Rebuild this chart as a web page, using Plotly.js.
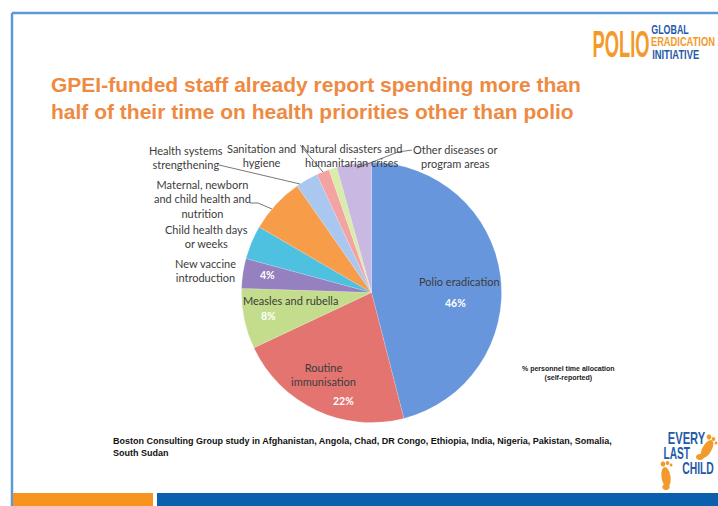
<!DOCTYPE html>
<html><head><meta charset="utf-8">
<script src="https://cdn.plot.ly/plotly-3.0.1.min.js"></script>
<style>html,body{margin:0;padding:0;background:#fff}#c{width:718px;height:506px}</style>
</head><body><div id="c"></div>
<script>
const categories = ["Polio eradication","Routine immunisation","Measles and rubella","New vaccine introduction","Child health days or weeks","Maternal, newborn and child health and nutrition","Health systems strengthening","Sanitation and hygiene","Natural disasters and humanitarian crises","Other diseases or program areas"];
const shares = [46, 22, 7.5, 3.7, 4.2, 6.9, 2.8, 1.6, 1, 4.3];
const sliceColors = ["#6796dc","#e3746f","#c3dd8c","#9580c0","#4dc1df","#f79d4a","#a9c7ef","#f3a3a1","#d9ecaa","#c9b9e2"];
const shownPercents = {"Polio eradication":"46%","Routine immunisation":"22%","Measles and rubella":"8%","New vaccine introduction":"4%"};

const W=718,H=506;
const px=x=>x/W, py=y=>1-y/H;
const cx=371.5, cy=292.5, R=130;

const gray="#3c3c3c", lf="Lato, 'Open Sans', sans-serif";
function lab(text,x,y,opts={}){
  return Object.assign({text:text,x:px(x),y:py(y),xref:'paper',yref:'paper',showarrow:false,
    xanchor:'center',yanchor:'middle',font:{family:lf,size:11,color:gray},align:'center'},opts);
}
const white={family:lf,size:10.5,color:"#ffffff",weight:'bold'};
const LS="'Liberation Sans', Arial, sans-serif";
const annotations=[
  lab("GPEI-funded staff already report spending more than<br>half of their time on health priorities other than polio",49,98,
      {xanchor:'left',align:'left',font:{family:LS,size:21,color:"#ee8a42",weight:'bold'}}),
  lab("Health systems<br>strengthening",186,157),
  lab("Sanitation and<br>hygiene",261,155),
  lab("Natural disasters and<br>humanitarian crises",351,155),
  lab("Other diseases or<br>program areas",456,156),
  lab("Maternal, newborn<br>and child health and<br>nutrition",202,199),
  lab("Child health days<br>or weeks",207,237),
  lab("New vaccine<br>introduction",205,270),
  lab(shownPercents["New vaccine introduction"],267,275,{font:white}),
  lab("Measles and rubella",290,300),
  lab(shownPercents["Measles and rubella"],268,316,{font:white}),
  lab("Routine<br>immunisation",323,374),
  lab(shownPercents["Routine immunisation"],343,401,{font:white}),
  lab("Polio eradication",459,281),
  lab(shownPercents["Polio eradication"],456,303,{font:white}),
  lab("% personnel time allocation<br>(self-reported)",568,373,{font:{family:LS,size:7,color:"#222",weight:'bold'}}),
  lab("Boston Consulting Group study in Afghanistan, Angola, Chad, DR Congo, Ethiopia, India, Nigeria, Pakistan, Somalia,<br>South Sudan",111,447,
      {xanchor:'left',align:'left',font:{family:LS,size:9,color:"#111",weight:'bold'}}),
  // POLIO logo
  lab("POLIO",621,45,{font:{family:LS,size:18,color:"#f39a2a",weight:'bold'}}),
  lab("GLOBAL",670,30.5,{font:{family:LS,size:9,color:"#1f5ba8",weight:'bold'}}),
  lab("ERADICATION",683,42.5,{font:{family:LS,size:9,color:"#f39a2a",weight:'bold'}}),
  lab("INITIATIVE",675,54.5,{font:{family:LS,size:9,color:"#1f5ba8",weight:'bold'}}),
  // EVERY LAST CHILD
  lab("EVERY",687,438,{font:{family:LS,size:11,color:"#1f5ba8",weight:'bold'}}),
  lab("LAST",677,453,{font:{family:LS,size:10.5,color:"#1f5ba8",weight:'bold'}}),
  lab("CHILD",698,468,{font:{family:LS,size:10.5,color:"#1f5ba8",weight:'bold'}})
];
// target widths and vertical stretch for condensed logo lettering
const fitSpecs={"POLIO":[57,2.0],"GLOBAL":[38,1.5],"ERADICATION":[64,1.35],"INITIATIVE":[47,1.4],"EVERY":[38,1.5],"LAST":[27,1.55],"CHILD":[32,1.55]};

function line(x0,y0,x1,y1,color,w){return {type:'line',xref:'paper',yref:'paper',x0:px(x0),y0:py(y0),x1:px(x1),y1:py(y1),line:{color:color,width:w}};}
function rect(x0,y0,x1,y1,color){return {type:'rect',xref:'paper',yref:'paper',x0:px(x0),y0:py(y0),x1:px(x1),y1:py(y1),fillcolor:color,line:{width:0}};}
function ellPath(ex,ey,rx,ry,deg,color){
  const a=deg*Math.PI/180; let d="";
  for(let i=0;i<=32;i++){const t=i/32*2*Math.PI;const x=rx*Math.cos(t),y=ry*Math.sin(t);
    const X=ex+x*Math.cos(a)-y*Math.sin(a), Y=ey+x*Math.sin(a)+y*Math.cos(a);
    d+=(i?"L":"M")+px(X).toFixed(5)+","+py(Y).toFixed(5);}
  return {type:'path',xref:'paper',yref:'paper',path:d+"Z",fillcolor:color,line:{width:0}};
}
const lc="#555", fo="#f39a2a";
const shapes=[
  line(12,13,718,13,"#5b9bd5",2.5),
  line(12,13,12,506,"#5b9bd5",2.5),
  rect(13,493,153,506,"#f7941d"),
  rect(157,493,718,506,"#0a5fae"),
  line(219,165,300,184,lc,0.8),
  line(250,203,258,203,lc,0.8), line(258,203,272,209,lc,0.8),
  line(300,145,323,172,lc,0.8),
  line(412,150,398,152,lc,0.8), line(398,152,357,168,lc,0.8),
  // footprints
  ellPath(707,449,4.5,10,30,fo), ellPath(700,457,4,3,0,fo),
  ellPath(709,437,2.3,2.6,0,fo), ellPath(713.5,439,1.8,2,0,fo), ellPath(716,443,1.4,1.6,0,fo),
  ellPath(666,477,4.5,10,-8,fo), ellPath(666,487,3.6,3,0,fo),
  ellPath(663,464,2.3,2.6,0,fo), ellPath(667.5,463,1.8,2,0,fo), ellPath(671,465,1.4,1.6,0,fo)
];

const data=[{type:'pie',labels:categories,values:shares,sort:false,direction:'clockwise',rotation:0,
  marker:{colors:sliceColors,line:{color:'rgba(255,255,255,0.3)',width:0.5}},textinfo:'none',hoverinfo:'none',showlegend:false,
  domain:{x:[px(cx-R),px(cx+R)],y:[py(cy+R),py(cy-R)]}}];

Plotly.newPlot('c',data,{width:W,height:H,margin:{l:0,r:0,t:0,b:0},paper_bgcolor:'#fff',showlegend:false,annotations:annotations,shapes:shapes},{displayModeBar:false,staticPlot:true}).then(()=>{
  document.querySelectorAll('.annotation-text').forEach(t=>{
    const f=fitSpecs[t.textContent];
    if(!f) return;
    const b=t.getBBox(); const sx=f[0]/b.width, sy=f[1]; const c=b.x+b.width/2, m=b.y+b.height/2;
    t.setAttribute('transform','translate('+c+','+m+') scale('+sx+','+sy+') translate('+(-c)+','+(-m)+')');
  });
});
</script></body></html>
